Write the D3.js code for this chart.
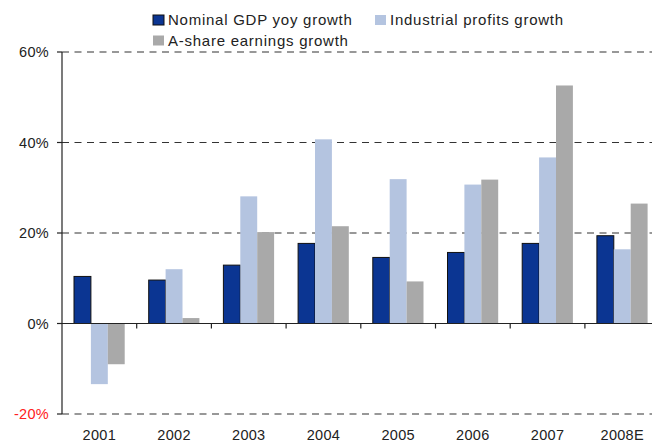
<!DOCTYPE html>
<html>
<head>
<meta charset="utf-8">
<script src="https://cdn.jsdelivr.net/npm/d3@7"></script>
<style>
  body { margin: 0; background: #fff; }
  text { font-family: "Liberation Sans", Arial, sans-serif; fill: #222; }
</style>
</head>
<body>
<svg id="chart" width="652" height="443"></svg>
<script>
const years = ["2001", "2002", "2003", "2004", "2005", "2006", "2007", "2008E"];
const gdp = [10.4, 9.6, 12.9, 17.7, 14.6, 15.7, 17.7, 19.4];
const profits = [-13.4, 12.0, 28.1, 40.7, 31.9, 30.7, 36.7, 16.4];
const earnings = [-9.0, 1.2, 20.2, 21.5, 9.3, 31.8, 52.6, 26.5];
const seriesNames = ["Nominal GDP yoy growth", "Industrial profits growth", "A-share earnings growth"];
const seriesColors = ["#0b3592", "#b4c4e0", "#a9a9a9"];
const yTicks = [-20, 0, 20, 40, 60];

const svg = d3.select("#chart");
const left = 62, step = 74.7;

const x0 = d3.scaleBand()
  .domain(years)
  .range([left, left + step * years.length]);

const x1 = d3.scaleBand()
  .domain(seriesNames)
  .range([12, step - 12]);

const y = d3.scaleLinear()
  .domain([-20, 60])
  .range([414, 52]);

// gridlines
svg.selectAll(".grid")
  .data(yTicks.filter(d => d !== 0))
  .join("line")
    .attr("class", "grid")
    .attr("x1", left).attr("x2", 652)
    .attr("y1", d => y(d)).attr("y2", d => y(d))
    .attr("stroke", "#333")
    .attr("stroke-width", 1.2)
    .attr("stroke-dasharray", "7,5.5");

const rows = years.map((yr, i) => ({ year: yr, vals: [gdp[i], profits[i], earnings[i]] }));

const groups = svg.selectAll(".year")
  .data(rows)
  .join("g")
    .attr("class", "year")
    .attr("transform", d => `translate(${x0(d.year)},0)`);

groups.selectAll("rect")
  .data(d => d.vals.map((v, j) => ({ v, name: seriesNames[j], j })))
  .join("rect")
    .attr("x", d => x1(d.name))
    .attr("y", d => y(Math.max(0, d.v)))
    .attr("width", x1.bandwidth())
    .attr("height", d => Math.abs(y(d.v) - y(0)))
    .attr("fill", d => seriesColors[d.j])
    .attr("stroke", d => d.j === 0 ? "#111" : "none")
    .attr("stroke-width", 1);

// zero line and category ticks
svg.append("line")
  .attr("x1", left - 5).attr("x2", 652)
  .attr("y1", y(0)).attr("y2", y(0))
  .attr("stroke", "#222").attr("stroke-width", 1.2);

svg.selectAll(".cat-tick")
  .data(years.slice(1))
  .join("line")
    .attr("class", "cat-tick")
    .attr("x1", d => x0(d)).attr("x2", d => x0(d))
    .attr("y1", y(0)).attr("y2", y(0) + 5)
    .attr("stroke", "#222").attr("stroke-width", 1.2);

// left axis
svg.append("line")
  .attr("x1", left).attr("x2", left)
  .attr("y1", y(60)).attr("y2", y(-20))
  .attr("stroke", "#222").attr("stroke-width", 1.2);

svg.selectAll(".y-tick")
  .data(yTicks)
  .join("line")
    .attr("class", "y-tick")
    .attr("x1", left - 5).attr("x2", left)
    .attr("y1", d => y(d)).attr("y2", d => y(d))
    .attr("stroke", "#222").attr("stroke-width", 1.2);

svg.selectAll(".y-label")
  .data(yTicks)
  .join("text")
    .attr("class", "y-label")
    .attr("x", 49)
    .attr("y", d => y(d))
    .attr("dy", "0.35em")
    .attr("text-anchor", "end")
    .style("font-size", "14.5px")
    .style("letter-spacing", "0.3px")
    .style("fill", d => d < 0 ? "#ff2020" : "#222")
    .text(d => d + "%");

svg.selectAll(".x-label")
  .data(years)
  .join("text")
    .attr("class", "x-label")
    .attr("x", d => x0(d) + step / 2)
    .attr("y", 440)
    .attr("text-anchor", "middle")
    .style("font-size", "14.5px")
    .style("letter-spacing", "0.3px")
    .text(d => d);

// legend
const legendPos = [[153, 25], [375, 25], [153, 45.5]];
const legend = svg.selectAll(".legend")
  .data(seriesNames)
  .join("g")
    .attr("class", "legend")
    .attr("transform", (d, i) => `translate(${legendPos[i][0]},${legendPos[i][1]})`);

legend.append("rect")
  .attr("x", 0).attr("y", -10)
  .attr("width", 11).attr("height", 10)
  .attr("fill", (d, i) => seriesColors[i])
  .attr("stroke", (d, i) => i === 0 ? "#111" : "none");

legend.append("text")
  .attr("x", 15)
  .attr("y", 0)
  .style("font-size", "15px")
  .style("letter-spacing", "0.75px")
  .text(d => d);
</script>
</body>
</html>
